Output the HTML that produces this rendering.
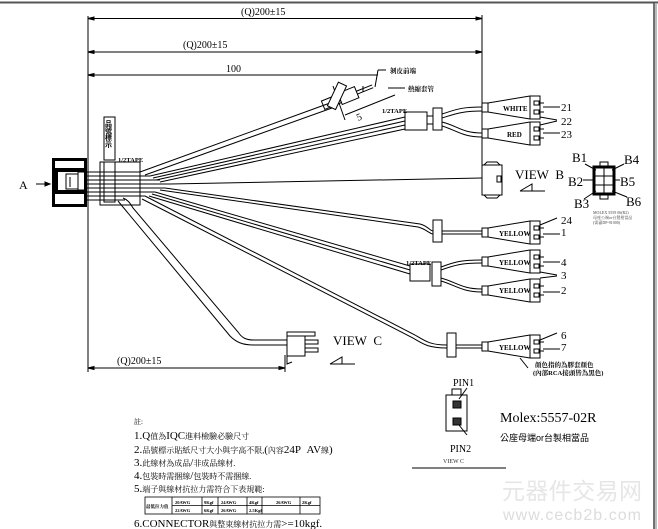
<!DOCTYPE html>
<html><head><meta charset="utf-8"><style>
html,body{margin:0;padding:0;background:#fff;}
svg{display:block;}
text{font-family:"Liberation Serif","Noto Serif CJK SC",serif;}
.s{font-family:"Liberation Sans","Noto Sans CJK SC",sans-serif;}
.cj{font-family:"Liberation Sans","Noto Sans CJK TC",sans-serif;}
</style></head><body>
<svg width="658" height="529" viewBox="0 0 658 529" xmlns="http://www.w3.org/2000/svg">
<g fill="none" stroke="#000" stroke-width="1">
<line x1="0" y1="2.5" x2="658" y2="2.5" stroke="#555" stroke-width="2"/>
<line x1="654" y1="3" x2="654" y2="529" stroke="#444" stroke-width="1.5"/>
<line x1="656" y1="3" x2="656" y2="529" stroke="#bbb" stroke-width="2"/>
<line x1="88" y1="16" x2="88" y2="372"/>
<line x1="88" y1="18.5" x2="482" y2="18.5"/>
<line x1="88" y1="52" x2="482" y2="52"/>
<line x1="88" y1="75" x2="378" y2="75"/>
<line x1="482" y1="15" x2="482" y2="190"/>
<line x1="88" y1="368" x2="285" y2="368"/>
<line x1="285" y1="355" x2="285" y2="372"/>
<path d="M88,18.5 l6,-1.5 v3z M482,18.5 l-6,-1.5 v3z M88,52 l6,-1.5 v3z M482,52 l-6,-1.5 v3z M88,75 l6,-1.5 v3z M88,368 l6,-1.5 v3z M285,368 l-6,-1.5 v3z" fill="#000"/>
<!-- connector A -->
<rect x="53.5" y="159.5" width="32" height="46" fill="#fff" stroke-width="3"/>
<rect x="52" y="168" width="35" height="4" fill="#000" stroke="none"/>
<rect x="52" y="190" width="35" height="4" fill="#000" stroke="none"/>
<rect x="52" y="172" width="6" height="18" fill="#000" stroke="none"/>
<rect x="66" y="174" width="12" height="15"/>
<rect x="78" y="172" width="8" height="18"/>
<line x1="70" y1="177" x2="70" y2="187"/>
<line x1="36" y1="184" x2="50" y2="184"/>
<path d="M50,184 l-5,-2 v4z" fill="#000"/>
<g stroke-width="0.9">
<line x1="87" y1="172" x2="140" y2="172"/>
<line x1="87" y1="176" x2="150" y2="176"/>
<line x1="87" y1="180" x2="160" y2="180"/>
<line x1="87" y1="184" x2="170" y2="184"/>
<line x1="87" y1="188" x2="165" y2="188"/>
<line x1="87" y1="192" x2="155" y2="192"/>
<line x1="87" y1="196" x2="145" y2="196"/>
<line x1="87" y1="200" x2="125" y2="200"/>
</g>
<rect x="104" y="117" width="11" height="43"/>
<rect x="100" y="162" width="40" height="43"/>
<rect x="104" y="162" width="11" height="40"/>
<line x1="140" y1="172" x2="330" y2="103"/>
<line x1="145" y1="175" x2="332" y2="108"/>
<line x1="150" y1="176" x2="405" y2="117"/>
<line x1="153" y1="178" x2="405" y2="121"/>
<line x1="156" y1="180" x2="405" y2="125"/>
<line x1="160" y1="182" x2="405" y2="129"/>
<rect x="405" y="112" width="22" height="18"/>
<rect x="433" y="108" width="9" height="22"/>
<path d="M427,116 L433,116 M427,124 L433,124"/>
<path d="M442,114 C455,110 460,107 482,107 M442,118 C455,114 462,111 482,111"/>
<path d="M442,122 C458,126 462,133 482,133 M442,126 C456,130 462,137 482,137"/>
<g transform="rotate(-22 345 98)">
<rect x="322" y="92" width="18" height="9"/>
<rect x="340" y="91" width="18" height="12"/>
<line x1="358" y1="96" x2="375" y2="96"/>
<line x1="358" y1="99" x2="375" y2="99"/>
</g>
<line x1="333" y1="86" x2="345" y2="120"/>
<line x1="363" y1="86" x2="363" y2="92"/>
<line x1="378" y1="70" x2="375" y2="87"/>
<line x1="378" y1="70" x2="386" y2="70"/>
<line x1="388" y1="88" x2="405" y2="88"/>
<line x1="345" y1="115" x2="395" y2="95"/>
<g transform="rotate(-65 337 97)"><rect x="325" y="92" width="26" height="9" fill="#fff"/></g>
<line x1="170" y1="184" x2="482" y2="178"/>
<rect x="482" y="165" width="20" height="30"/>
<rect x="497" y="176" width="4" height="6"/>
<path d="M484,165 l3,-3 h10 l3,3 M484,195 l3,3 h10 l3,-3"/>
<path d="M520,191 h25 M520,191 l12,-7 v7"/>
<path d="M165,188 L420,224 C428,226 430,231 433,231"/>
<path d="M160,190 L418,227 C426,229 430,234 433,234"/>
<rect x="433" y="220" width="9" height="22"/>
<line x1="442" y1="231" x2="482" y2="231"/>
<line x1="442" y1="234" x2="482" y2="234"/>
<line x1="155" y1="192" x2="410" y2="266"/>
<line x1="152" y1="194" x2="410" y2="270"/>
<line x1="149" y1="196" x2="410" y2="274"/>
<rect x="410" y="264" width="20" height="17"/>
<rect x="432" y="262" width="9" height="24"/>
<path d="M441,267 C455,262 460,260 482,260 M441,270 C455,265 462,263 482,263"/>
<path d="M441,278 C456,282 462,289 482,289 M441,281 C455,285 462,292 482,292"/>
<path d="M145,196 L415,335 C425,341 430,345 447,345"/>
<path d="M142,199 L413,338 C423,344 428,348 447,348"/>
<rect x="447" y="333" width="9" height="24"/>
<line x1="456" y1="345" x2="482" y2="345"/>
<line x1="456" y1="348" x2="482" y2="348"/>
<path d="M123,198 C128,200 130,203 133,208 L238,332 C242,338 246,340 254,340 L287,340"/>
<path d="M118,201 L230,336 C236,342 242,345 254,345 L287,345"/>
<rect x="287" y="336" width="18" height="20"/>
<rect x="287" y="332" width="28" height="4"/>
<rect x="305" y="340" width="13" height="4"/>
<rect x="305" y="348" width="13" height="4"/>
<path d="M287,356 v8 l5,-2"/>
<path d="M330,364 h25 M330,364 l12,-7 v7"/>
<g id="c1">
<rect x="482" y="103" width="6" height="9"/>
<path d="M488,103 L530,96 M488,112 L530,119"/>
<rect x="530" y="96" width="10" height="23"/>
<rect x="534" y="101" width="5" height="4"/><rect x="534" y="110" width="5" height="4"/>
<line x1="540" y1="103" x2="544" y2="103"/><line x1="540" y1="112" x2="544" y2="112"/>
</g>
<use href="#c1" transform="translate(0,26)"/>
<use href="#c1" transform="translate(0,125)"/>
<use href="#c1" transform="translate(0,154)"/>
<use href="#c1" transform="translate(0,183)"/>
<use href="#c1" transform="translate(0,239)"/>
<path d="M543,107 H560 M543,133 H560 M540,117 L557,120 M540,125 L557,121 M540,225 L557,218 M543,234 H560 M543,262 H560 M540,272 L557,275 M540,278 L557,276 M543,292 H560 M540,340 L557,333 M543,349 H560 M520,358 L528,368"/>
<rect x="594" y="167" width="20" height="27" stroke-width="3"/>
<line x1="604" y1="167" x2="604" y2="194"/>
<line x1="594" y1="176" x2="614" y2="176"/><line x1="594" y1="185" x2="614" y2="185"/>
<rect x="600" y="162" width="8" height="5"/><rect x="600" y="194" width="8" height="5"/>
<path d="M585,164 L596,170 M624,164 L612,170 M583,180 L593,180 M620,180 L613,180 M584,199 L596,191 M627,197 L612,191"/>
<rect x="446" y="395" width="21" height="36"/>
<rect x="452" y="389" width="9" height="6"/>
<rect x="453" y="401" width="8" height="7" fill="#333"/>
<rect x="453" y="418" width="8" height="7" fill="#333"/>
<path d="M459,399 L467,388 M459,425 L467,435"/>
<line x1="412" y1="468" x2="506" y2="468"/>
<g stroke-width="0.8">
<rect x="145" y="497" width="175" height="17"/>
<line x1="172" y1="505.5" x2="320" y2="505.5"/>
<line x1="172" y1="497" x2="172" y2="514"/><line x1="202" y1="497" x2="202" y2="514"/>
<line x1="218" y1="497" x2="218" y2="514"/><line x1="247" y1="497" x2="247" y2="514"/>
<line x1="262" y1="497" x2="262" y2="514"/><line x1="300" y1="497" x2="300" y2="514"/>
</g>
</g>
<g fill="#000">
<g class="s" font-size="10">
<text x="241" y="15">(Q)200±15</text>
<text x="183" y="48">(Q)200±15</text>
<text x="226" y="72">100</text>
<text x="117" y="364">(Q)200±15</text>
</g>
<text x="108" y="120" font-size="7" class="cj" writing-mode="tb" font-weight="bold">品號標示</text>
<text x="19" y="189" font-size="12">A</text>
<text x="118" y="162" font-size="6.5" font-weight="bold">1/2TAPE</text>
<text x="382" y="113" font-size="6.5" font-weight="bold">1/2TAPE</text>
<text x="406" y="265" font-size="6.5" font-weight="bold">1/2TAPE</text>
<text x="358" y="121" font-size="10" transform="rotate(-22 358 121)">5</text>
<g class="cj" font-size="6.5" font-weight="bold">
<text x="390" y="73">剝皮前端</text>
<text x="408" y="91">熱縮套管</text>
</g>
<g font-size="7" font-weight="bold">
<text x="503" y="111">WHITE</text>
<text x="507" y="137">RED</text>
<text x="499" y="236">YELLOW</text>
<text x="499" y="265">YELLOW</text>
<text x="499" y="293">YELLOW</text>
<text x="499" y="350">YELLOW</text>
</g>
<g class="s" font-size="11">
<text x="561" y="111">21</text>
<text x="561" y="125">22</text>
<text x="561" y="138">23</text>
<text x="561" y="224">24</text>
<text x="561" y="236">1</text>
<text x="561" y="266">4</text>
<text x="561" y="279">3</text>
<text x="561" y="294">2</text>
<text x="561" y="339">6</text>
<text x="561" y="351">7</text>
</g>
<g font-size="13">
<text x="515" y="179">VIEW&#160;&#160;B</text>
<text x="333" y="345">VIEW&#160;&#160;C</text>
<text x="572" y="162">B1</text>
<text x="624" y="164">B4</text>
<text x="568" y="186">B2</text>
<text x="620" y="186">B5</text>
<text x="574" y="208">B3</text>
<text x="626" y="206">B6</text>
</g>
<g class="cj" font-size="4" style="fill:#444">
<text x="593" y="214">MOLEX 5559 06(R2)</text>
<text x="593" y="219">母座公端or台製相當品</text>
<text x="593" y="224">(需審DP-91000)</text>
</g>
<g class="cj" font-size="6.5" font-weight="bold">
<text x="535" y="367">顏色指的為膠套顏色</text>
<text x="533" y="375">(內部RCA接頭皆為黑色)</text>
</g>
<text x="453" y="386" font-size="10">PIN1</text>
<text x="450" y="452" font-size="10">PIN2</text>
<text x="443" y="463" font-size="6" style="fill:#333">VIEW C</text>
<text x="500" y="422" font-size="14" font-family="Liberation Mono,monospace">Molex:5557-02R</text>
<text x="500" y="441" font-size="9" class="cj">公座母端or台製相當品</text>
<g class="cj" font-size="8">
<text x="134" y="424" font-size="7">註:</text>
<text x="134" y="439"><tspan font-size="11">1.Q</tspan>值為<tspan font-size="11">IQC</tspan>進料檢驗必驗尺寸</text>
<text x="134" y="453"><tspan font-size="11">2.</tspan>品號標示貼紙尺寸大小與字高不限,<tspan font-size="11">(</tspan>內容<tspan font-size="11">24P&#160;&#160;AV</tspan>線<tspan font-size="11">)</tspan></text>
<text x="134" y="466"><tspan font-size="11">3.</tspan>此線材為成品<tspan font-size="11">/</tspan>非成品線材.</text>
<text x="134" y="479"><tspan font-size="11">4.</tspan>包裝時需捆線<tspan font-size="11">/</tspan>包裝時不需捆線.</text>
<text x="134" y="492"><tspan font-size="11">5.</tspan>端子與線材抗拉力需符合下表規範:</text>
<text x="134" y="527"><tspan font-size="11">6.CONNECTOR</tspan>與整束線材抗拉力需<tspan font-size="11">&gt;=10kgf.</tspan></text>
</g>
<g font-size="4.5" font-weight="bold" class="cj">
<text x="146" y="508">最低拉力值</text>
<text x="175" y="504">20AWG</text><text x="204" y="504">9Kgf</text><text x="221" y="504">24AWG</text><text x="249" y="504">4Kgf</text><text x="276" y="504">26AWG</text><text x="302" y="504">2Kgf</text>
<text x="175" y="512">22AWG</text><text x="204" y="512">6Kgf</text><text x="221" y="512">26AWG</text><text x="249" y="512">2.5Kgf</text>
</g>
</g>
<text x="502" y="499" font-size="23" class="cj" style="fill:#e6e6e6" textLength="140">元器件交易网</text>
<text x="503" y="520" font-size="16" class="s" style="fill:#dcdcdc" textLength="138">www.cecb2b.com</text>
</svg>
</body></html>
